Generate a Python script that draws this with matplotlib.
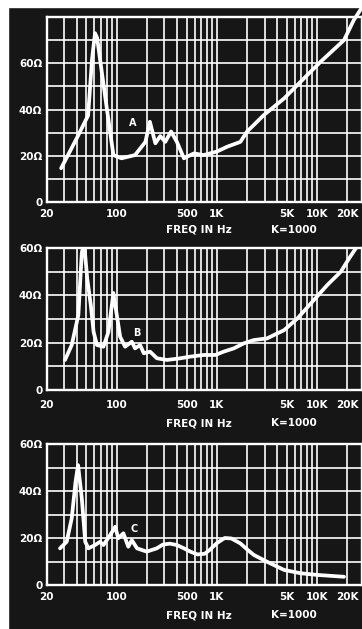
import matplotlib
matplotlib.use("Agg")
import matplotlib.pyplot as plt
from matplotlib.patches import Rectangle

# impedance curves (Hz, ohms)
freq_a = [28, 40, 52, 57, 61, 64, 70, 80, 93, 112, 153, 194, 215, 244, 273, 306, 350, 400,
          470, 590, 740, 1000, 1270, 1720, 2000, 2950, 4700, 8000, 10900, 18600, 23300, 28000]
ohm_a = [14.6, 27.5, 37.4, 62, 73, 71, 58.6, 40.4, 20.3, 18.9, 20.3, 26, 34.7, 25.4, 28.5, 26, 30.5, 26,
         18.9, 21, 20.3, 21.8, 23.9, 26, 30.4, 37.6, 44.8, 54.9, 60.7, 70, 78.7, 84]

freq_b = [30.6, 35.7, 41.6, 45, 47.5, 51, 55.3, 59, 63.7, 74, 83, 93, 108.6, 121.7, 142, 153, 172, 187,
          216, 253, 319, 433, 545, 739, 968, 1170, 1480, 1860, 2340, 3170, 4700, 6400, 9300, 12700,
          17300, 20900, 24400, 27000]
ohm_b = [12.7, 19, 31.7, 58, 62, 47, 36, 24.6, 19, 18.3, 24.6, 41, 22.5, 18.3, 20.4, 17.6, 19, 15.5,
         16.2, 13.4, 12.7, 13.4, 14.1, 14.8, 14.8, 16.2, 17.6, 19.7, 21.1, 21.8, 25.3, 30.3, 38, 44.4,
         50, 55.6, 59.9, 63]

freq_c = [27.3, 31.8, 35.7, 39, 41.3, 45, 48.7, 52.4, 61, 68.5, 74, 86.5, 97, 104, 117, 131, 142, 160,
          200, 252, 290, 340, 400, 470, 545, 640, 760, 864, 1000, 1200, 1400, 1720, 2000, 2340, 3170,
          4700, 6850, 10000, 18600]
ohm_c = [15.6, 18.4, 28.4, 44, 51, 36.9, 18.4, 15.6, 17, 18.4, 17, 21.3, 24.8, 19.9, 22, 16.3, 19.1, 15.6,
         14.2, 15.6, 17.2, 17.6, 17, 15.6, 14.2, 13, 13.3, 15.2, 17.8, 20, 19.8, 17.7, 15.2, 12.8, 9.9,
         6.4, 5.0, 4.3, 3.5]

x_ticks = [20, 100, 500, 1000, 5000, 10000, 20000]
x_labels = ["20", "100", "500", "1K", "5K", "10K", "20K"]
y_ticks = [0, 20, 40, 60]
y_labels = ["0", "20Ω", "40Ω", "60Ω"]

# log-paper grid lines: 2..9 in every decade plus decades
x_grid = [m * 10 ** d for d in range(1, 5) for m in range(1, 10)]

BG = "#161616"
FG = "white"

fig = plt.figure(figsize=(3.62, 6.29), dpi=100, facecolor=BG)
H = 629.0
W = 362.0

# (curve x, curve y, top ohms, top px, bottom px, letter, letter pos, freq-label offset px, tick pad)
panels = [
    (freq_a, ohm_a, 80, 17, 202, "A", (144, 34), -28, 5),
    (freq_b, ohm_b, 60, 248, 390, "B", (159, 24), -33, 7),
    (freq_c, ohm_c, 60, 444, 585, "C", (150, 24), -30, 5),
]

left_px = 46.5
right_px = 361.5
for fx, oy, top, ytop, ybot, letter, lpos, foff, xpad in panels:
    ax = fig.add_axes([left_px / W, (H - ybot) / H, (right_px - left_px) / W, (ybot - ytop) / H])
    ax.set_facecolor(BG)
    ax.set_xscale("log")
    ax.set_xlim(20, 27800)
    ax.set_ylim(0, top)

    ax.set_xticks(x_ticks)
    ax.set_xticklabels(x_labels)
    ax.set_xticks([], minor=True)
    ax.set_yticks(y_ticks)
    ax.set_yticklabels(y_labels)

    for g in x_grid:
        if 20 < g < 27800:
            ax.axvline(g, color=FG, lw=1.2, zorder=1)
    for v in range(10, top, 10):
        ax.axhline(v, color=FG, lw=1.2, zorder=1)

    ax.tick_params(which="both", length=0, colors=FG, labelsize=7.5)
    ax.tick_params(axis="x", pad=xpad)
    ax.tick_params(axis="y", pad=3)
    for t in ax.get_xticklabels() + ax.get_yticklabels():
        t.set_fontweight("bold")
    for s in ax.spines.values():
        s.set_color(FG)
        s.set_linewidth(1.7)

    ax.plot(fx, oy, color=FG, lw=2.7, solid_capstyle="round", solid_joinstyle="round",
            zorder=3, clip_on=(letter != "A"))
    ax.text(lpos[0], lpos[1], letter, color=FG, fontsize=7, fontweight="bold",
            ha="center", va="center", zorder=4)

    ax.annotate("FREQ IN Hz", xy=((199 - left_px) / (right_px - left_px), 0), xycoords="axes fraction",
                xytext=(0, foff), textcoords="offset pixels", ha="center", va="center",
                color=FG, fontsize=7.5, fontweight="bold")
    ax.annotate("K=1000", xy=((294 - left_px) / (right_px - left_px), 0), xycoords="axes fraction",
                xytext=(0, foff), textcoords="offset pixels", ha="center", va="center",
                color=FG, fontsize=7.5, fontweight="bold")

# scan edges
fig.patches.append(Rectangle((0, 0), 8 / W, 1, transform=fig.transFigure, color="white", zorder=0))
fig.patches.append(Rectangle((0, 1 - 7 / H), 1, 7 / H, transform=fig.transFigure, color="white", zorder=0))

fig.savefig("out.png", dpi=100, facecolor=BG)
